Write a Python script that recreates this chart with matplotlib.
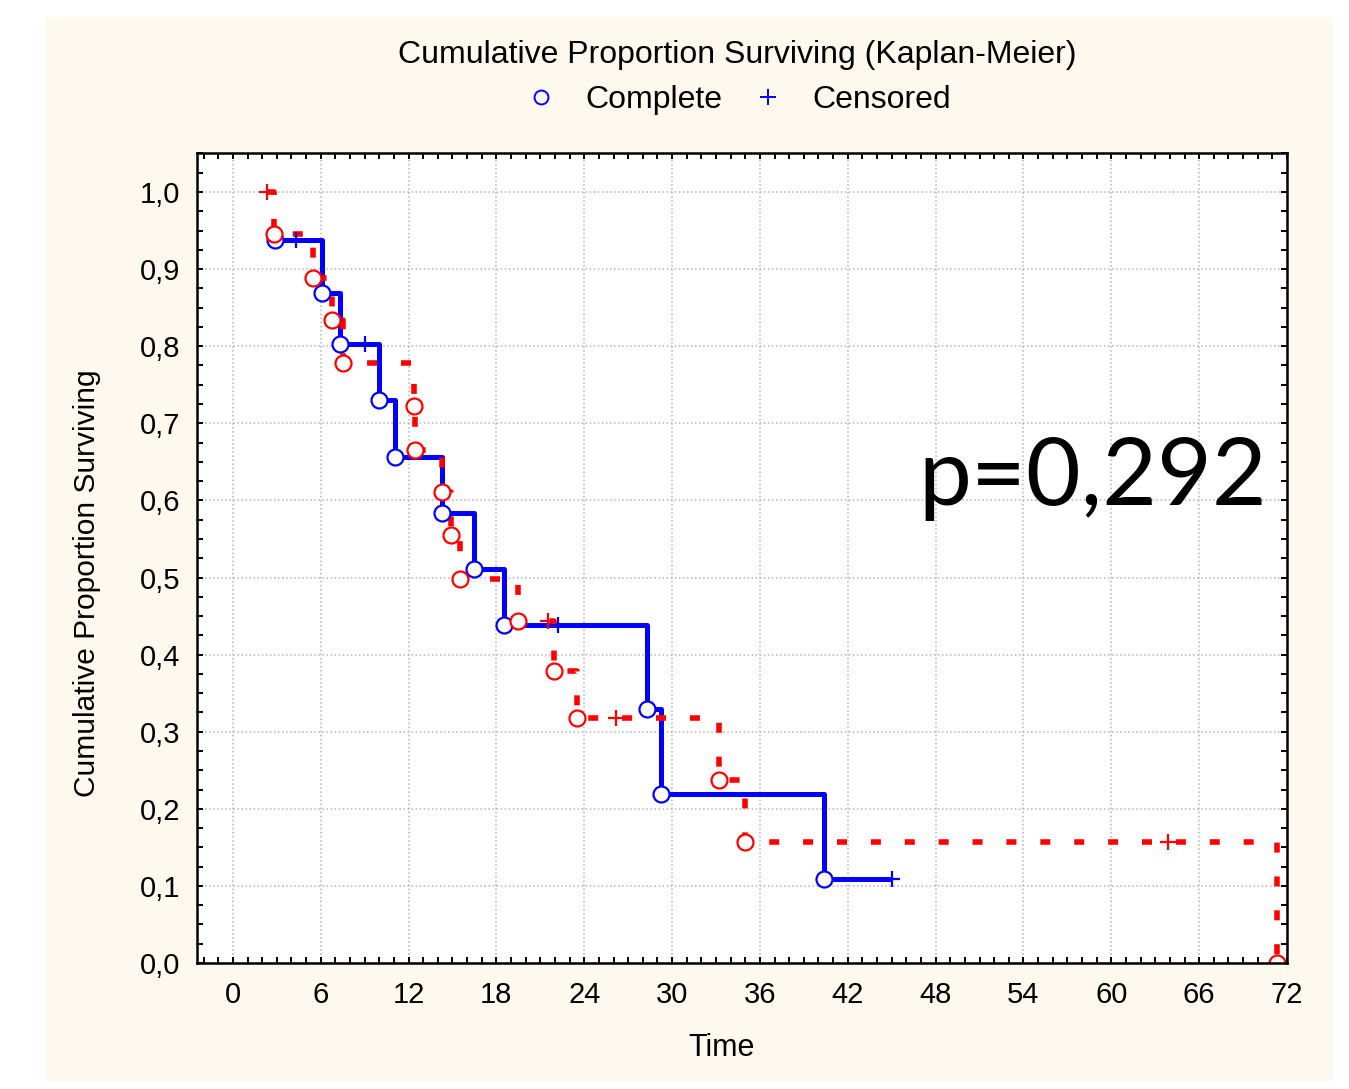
import matplotlib
matplotlib.use("Agg")
import matplotlib.pyplot as plt
from matplotlib.lines import Line2D
from matplotlib.patches import Rectangle
from matplotlib.ticker import MultipleLocator, FuncFormatter

# group 1 (blue, solid line) - status 1 = complete, 0 = censored
blue_time = [2.86, 4.3, 6.07, 7.3, 9.0, 10.0, 11.05, 14.3, 16.5, 18.5, 22.2, 28.3, 29.25, 40.4, 45.0]
blue_surv = [0.938, 0.938, 0.869, 0.803, 0.803, 0.730, 0.656, 0.584, 0.511, 0.438, 0.438, 0.329, 0.219, 0.109, 0.109]
blue_stat = [1, 0, 1, 1, 0, 1, 1, 1, 1, 1, 0, 1, 1, 1, 0]

# group 2 (red, dotted line)
red_time = [2.3, 2.8, 5.5, 6.8, 7.55, 12.35, 12.45, 14.3, 14.9, 15.5, 19.5, 21.5, 21.95, 23.5, 26.2, 33.2, 35.0, 63.9, 71.3]
red_surv = [1.0, 0.945, 0.888, 0.834, 0.778, 0.722, 0.665, 0.611, 0.555, 0.498, 0.444, 0.444, 0.379, 0.318, 0.318, 0.237, 0.157, 0.157, 0.0]
red_stat = [0, 1, 1, 1, 1, 1, 1, 1, 1, 1, 1, 0, 1, 1, 0, 1, 1, 0, 1]

x_ticks = [0, 6, 12, 18, 24, 30, 36, 42, 48, 54, 60, 66, 72]
p_text = "p=0,292"

W, H = 1349, 1089
fig = plt.figure(figsize=(W / 100, H / 100), dpi=100)
fig.patch.set_facecolor("white")
fig.add_artist(Rectangle((45 / W, 1 - 1081 / H), (1333 - 45) / W, (1081 - 18) / H,
                         transform=fig.transFigure, facecolor="#fdf9ee", edgecolor="none", zorder=-5))

ax = fig.add_axes([197 / W, 1 - 963 / H, (1287 - 197) / W, (963 - 153) / H])
ax.set_facecolor("white")

font = "Liberation Sans"


def draw_group(t, s, st, col, dashed):
    if dashed:
        ln, = ax.plot(t, s, color=col, lw=4.0, drawstyle="steps-post", zorder=3)
        ln.set_dashes((1.8, 4.3))
        ln.set_dash_capstyle("butt")
    else:
        ax.plot(t, s, color=col, lw=3.6, drawstyle="steps-post", solid_capstyle="butt", zorder=3)
    ev_t = [a for a, b in zip(t, st) if b == 1]
    ev_s = [a for a, b in zip(s, st) if b == 1]
    ce_t = [a for a, b in zip(t, st) if b == 0]
    ce_s = [a for a, b in zip(s, st) if b == 0]
    ax.plot(ev_t, ev_s, "o", ms=11.5, mfc="white", mec=col, mew=1.6, zorder=4)
    ax.plot(ce_t, ce_s, "+", ms=12, mec=col, mew=1.6, zorder=4)


draw_group(blue_time, blue_surv, blue_stat, "#0000ff", False)
draw_group(red_time, red_surv, red_stat, "#ff0000", True)

ax.set_xlim(-2.45, 72)
ax.set_ylim(0, 1.0506)
ax.set_xticks(x_ticks)
ax.xaxis.set_minor_locator(MultipleLocator(1))
ax.yaxis.set_major_locator(MultipleLocator(0.1))
ax.yaxis.set_minor_locator(MultipleLocator(0.025))
ax.yaxis.set_major_formatter(FuncFormatter(lambda v, p: f"{v:.1f}".replace(".", ",")))
ax.tick_params(which="both", direction="in", top=True, right=True, length=4, width=1.4, color="black")
ax.tick_params(axis="y", which="major", pad=12, labelsize=21)
ax.tick_params(axis="x", which="major", pad=13, labelsize=21)
for lab in ax.get_xticklabels() + ax.get_yticklabels():
    lab.set_fontfamily(font)
ax.grid(True, which="major", ls=":", color="#b4b4b4", lw=1.1)
ax.set_axisbelow(True)
for sp in ax.spines.values():
    sp.set_linewidth(1.8)
    sp.set_zorder(6)

fig.text(722 / W, 1 - 1048 / H, "Time", ha="center", va="center", fontsize=22, family=font)
fig.text(87 / W, 1 - 583 / H, "Cumulative Proportion Surviving", ha="center", va="center",
         rotation=90, fontsize=21.5, family=font)
fig.text(737 / W, 1 - 55 / H, "Cumulative Proportion Surviving (Kaplan-Meier)",
         ha="center", va="center", fontsize=23, family=font)

handles = [Line2D([], [], ls="none", marker="o", ms=10, mfc="none", mec="#0000ff", mew=1.4),
           Line2D([], [], ls="none", marker="+", ms=12, mec="#0000ff", mew=1.4)]
leg = fig.legend(handles, ["Complete", "Censored"], loc="center", bbox_to_anchor=(738 / W, 1 - 100 / H),
                 ncol=2, frameon=False, handlelength=1.0, handletextpad=0.9, columnspacing=0.9,
                 prop={"family": font, "size": 23})

fig.text(918 / W, 1 - 505 / H, p_text, ha="left", va="baseline", fontsize=68, family="Lato")

fig.savefig("out.png", dpi=100)
